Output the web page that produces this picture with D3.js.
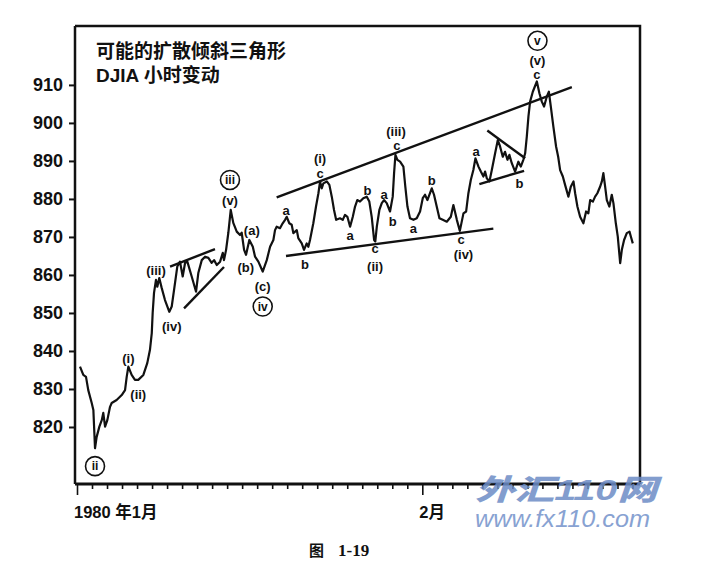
<!DOCTYPE html>
<html>
<head>
<meta charset="utf-8">
<script src="https://cdn.jsdelivr.net/npm/d3@7"></script>
<style>
  body { margin: 0; background: #fff; }
  svg text { font-family: "Liberation Sans", Arial, "Noto Sans CJK SC", sans-serif; font-weight: bold; fill: #111; }
</style>
</head>
<body>
<div id="chart"></div>
<script>
// chart size
var width = 712;
var height = 586;

// hourly DJIA path: trading day index (0 = start of Jan 1980) and index level
var days = [0.20, 0.42, 0.60, 0.75, 0.98, 1.09, 1.20, 1.31, 1.49, 1.65, 1.75, 1.87, 2.02, 2.20, 2.31, 2.64, 2.98, 3.20, 3.31, 3.42,
  3.64, 3.86, 4.08, 4.42, 4.68, 4.86, 4.98, 5.04, 5.13, 5.26, 5.35, 5.48, 5.64, 5.86, 6.15, 6.31, 6.53, 6.68, 6.86, 7.04,
  7.20, 7.35, 7.64, 7.93, 8.08, 8.31, 8.53, 8.75, 8.97, 9.13, 9.31, 9.53, 9.71, 9.79, 9.93, 10.08, 10.24, 10.41, 10.64, 10.86,
  10.97, 11.13, 11.26, 11.48, 11.71, 11.86, 12.08, 12.37, 12.64, 12.86, 13.08, 13.19, 13.30, 13.52, 13.70, 13.86, 13.97, 14.14, 14.30, 14.41,
  14.64, 14.74, 14.97, 15.12, 15.30, 15.41, 15.52, 15.74, 15.92, 16.08, 16.19, 16.30, 16.41, 16.64, 16.81, 16.97, 17.12, 17.26, 17.52, 17.70,
  17.85, 18.01, 18.19, 18.37, 18.52, 18.67, 18.85, 19.07, 19.30, 19.47, 19.63, 19.79, 19.87, 19.97, 20.14, 20.30, 20.45, 20.63, 20.85, 21.03,
  21.12, 21.21, 21.34, 21.52, 21.74, 21.87, 22.01, 22.18, 22.41, 22.63, 22.85, 23.03, 23.18, 23.34, 23.63, 23.78, 23.96, 24.14, 24.36, 24.63,
  24.90, 25.07, 25.30, 25.50, 25.74, 25.92, 26.07, 26.23, 26.40, 26.54, 26.74, 26.90, 27.07, 27.18, 27.30, 27.47, 27.63, 27.85, 28.03, 28.18,
  28.36, 28.51, 28.67, 28.80, 28.96, 29.18, 29.40, 29.56, 29.73, 29.85, 29.96, 30.07, 30.18, 30.36, 30.63, 30.80, 30.96, 31.11, 31.29, 31.43,
  31.56, 31.73, 31.91, 32.05, 32.18, 32.36, 32.51, 32.73, 32.89, 33.07, 33.18, 33.33, 33.51, 33.73, 33.91, 34.06, 34.18, 34.36, 34.51, 34.66,
  34.84, 34.96, 35.06, 35.18, 35.29, 35.46, 35.62, 35.73, 35.89, 36.02, 36.18, 36.29, 36.44, 36.62, 36.80, 36.89, 37.02];

var prices = [835.9, 833.7, 833.2, 829.7, 826.3, 824.5, 814.4, 817.4, 820.1, 821.8, 823.7, 820.1, 821.8, 825.3, 826.3, 827.1, 828.4, 829.7, 833.2, 835.9,
  833.7, 832.4, 832.4, 833.7, 836.8, 840.3, 844.7, 850.0, 855.3, 858.7, 856.9, 859.2, 856.6, 853.4, 850.3, 851.7, 857.9, 862.2, 863.5, 859.6,
  863.2, 863.5, 859.6, 855.6, 860.5, 863.9, 864.8, 864.5, 863.2, 863.9, 862.6, 863.5, 865.8, 863.9, 866.6, 871.1, 877.1, 873.7, 871.4, 870.5,
  871.1, 866.6, 865.3, 869.2, 867.4, 864.8, 863.5, 860.9, 863.9, 867.4, 869.2, 871.8, 872.7, 872.3, 873.6, 874.5, 875.3, 873.6, 873.2, 871.0,
  871.8, 869.7, 868.3, 866.6, 868.3, 867.4, 869.2, 873.6, 878.0, 881.5, 884.6, 882.8, 884.1, 884.6, 883.7, 880.6, 877.1, 874.5, 874.9, 874.5,
  875.8, 875.3, 872.7, 875.3, 878.0, 879.7, 879.3, 880.2, 880.6, 879.3, 875.3, 869.2, 868.8, 872.7, 877.1, 878.9, 879.7, 878.9, 876.7, 880.6,
  886.8, 891.6, 890.3, 889.8, 888.5, 883.2, 878.0, 874.9, 874.5, 874.9, 876.7, 880.2, 881.1, 879.7, 882.8, 881.1, 878.0, 874.9, 874.5, 874.0,
  875.3, 878.4, 874.5, 871.6, 876.2, 876.7, 881.5, 885.0, 887.6, 890.7, 888.5, 887.2, 885.9, 887.2, 885.4, 884.6, 887.6, 892.0, 895.5, 893.8,
  891.1, 892.4, 890.3, 891.6, 889.4, 887.2, 889.8, 888.5, 890.3, 892.0, 896.4, 901.7, 905.6, 908.2, 910.9, 907.8, 905.6, 904.3, 906.9, 908.2,
  904.3, 899.0, 893.8, 891.1, 887.6, 885.9, 883.7, 880.6, 883.2, 884.6, 881.5, 878.0, 875.3, 873.6, 876.7, 876.2, 879.7, 879.3, 880.6, 881.5,
  883.2, 884.6, 886.8, 883.2, 879.7, 878.0, 881.1, 878.9, 873.6, 870.1, 863.1, 866.6, 869.2, 871.0, 871.4, 870.1, 868.3];

// y axis ticks
var priceTicks = [820, 830, 840, 850, 860, 870, 880, 890, 900, 910];

// x axis: one tick per trading day, labelled at month starts
var dayTicks = d3.range(0, 38);
var monthDays = [0, 23];
var monthLabels = ["1980 年1月", "2月"];

// trendlines: [day1, price1, day2, price2]
var trendLines = [
  [6.20, 862.2, 9.19, 866.8],
  [7.13, 851.2, 9.79, 862.1],
  [13.30, 880.4, 32.96, 909.4],
  [13.92, 865.0, 27.73, 872.2],
  [27.33, 898.0, 29.85, 890.7],
  [26.80, 883.9, 29.78, 887.4]
];

// wave labels
var labelDays = [1.20, 3.42, 4.08, 5.26, 6.31, 10.19, 10.19, 11.64, 11.24, 12.37, 12.37,
  13.92, 15.19, 16.19, 16.19, 18.19, 19.34, 19.85, 19.85, 20.45, 21.03, 21.25, 21.30, 22.40, 23.63,
  25.58, 25.74, 26.58, 29.47, 30.67, 30.67, 30.63];
var labelPrices = [809.7, 838.1, 828.7, 861.3, 846.4, 879.7, 885.0, 871.8, 862.0, 857.1, 851.7,
  877.1, 862.8, 890.8, 886.7, 870.5, 882.4, 867.0, 862.4, 881.1, 874.0, 897.7, 894.0, 872.3, 885.0,
  869.4, 865.5, 892.6, 884.1, 921.6, 916.6, 912.7];
var labelTexts = ["ii", "(i)", "(ii)", "(iii)", "(iv)", "(v)", "iii", "(a)", "(b)", "(c)", "iv",
  "a", "b", "(i)", "c", "a", "b", "c", "(ii)", "a", "b", "(iii)", "c", "a", "b",
  "c", "(iv)", "a", "b", "v", "(v)", "c"];
var labelCircled = [1, 0, 0, 0, 0, 0, 1, 0, 0, 0, 1,
  0, 0, 0, 0, 0, 0, 0, 0, 0, 0, 0, 0, 0, 0,
  0, 0, 0, 0, 1, 0, 0];

var plotLeft = 75, plotRight = 640, plotTop = 26, plotBottom = 484;

var x = d3.scaleLinear().domain([0, 37.5]).range([77, 640]);
var y = d3.scaleLinear().domain([805, 925.5]).range([plotBottom, plotTop]);

var svg = d3.select("#chart")
  .append("svg")
  .attr("width", width)
  .attr("height", height);

// frame (top and right)
svg.append("path")
  .attr("d", "M" + plotLeft + "," + plotTop + "H" + plotRight + "V" + plotBottom)
  .attr("fill", "none")
  .attr("stroke", "#111")
  .attr("stroke-width", 2.5);

// y axis
var yAxis = svg.append("g")
  .attr("transform", "translate(" + plotLeft + ",0)")
  .call(d3.axisLeft(y).tickValues(priceTicks).tickSize(6).tickPadding(6).tickFormat(d3.format("d")));
yAxis.select(".domain").attr("stroke", "#111").attr("stroke-width", 2.5)
  .attr("d", "M0," + plotTop + "V" + plotBottom);
yAxis.selectAll(".tick line").attr("stroke", "#111").attr("stroke-width", 2);
yAxis.selectAll(".tick text")
  .style("font-size", "18px")
  .style("font-family", "'Liberation Sans', Arial, sans-serif")
  .style("font-weight", "bold")
  .attr("fill", "#111");

// x axis
var xAxis = svg.append("g")
  .attr("transform", "translate(0," + plotBottom + ")")
  .call(d3.axisBottom(x).tickValues(dayTicks).tickSize(5).tickFormat(""));
xAxis.select(".domain").attr("stroke", "#111").attr("stroke-width", 3)
  .attr("d", "M" + plotLeft + ",0H" + plotRight);
xAxis.selectAll(".tick line")
  .attr("stroke", "#111")
  .attr("stroke-width", 1.6)
  .attr("y2", function(d) { return monthDays.indexOf(d) >= 0 ? 11 : 5; });

svg.selectAll(".month-label")
  .data(monthDays)
  .enter()
  .append("text")
  .attr("class", "month-label")
  .attr("x", function(d) { return x(d) - 3; })
  .attr("y", plotBottom + 34)
  .style("font-size", "16.5px")
  .text(function(d, i) { return monthLabels[i]; });

// title
svg.append("text").attr("x", 96).attr("y", 58).style("font-size", "19px").text("可能的扩散倾斜三角形");
svg.append("text").attr("x", 96).attr("y", 82).style("font-size", "19px").text("DJIA 小时变动");

// price line
var line = d3.line()
  .x(function(d) { return x(d); })
  .y(function(d, i) { return y(prices[i]); });

svg.append("path")
  .datum(days)
  .attr("d", line)
  .attr("fill", "none")
  .attr("stroke", "#111")
  .attr("stroke-width", 2.2)
  .attr("stroke-linejoin", "round");

// trendlines
svg.selectAll(".trend")
  .data(trendLines)
  .enter()
  .append("line")
  .attr("class", "trend")
  .attr("x1", function(d) { return x(d[0]); })
  .attr("y1", function(d) { return y(d[1]); })
  .attr("x2", function(d) { return x(d[2]); })
  .attr("y2", function(d) { return y(d[3]); })
  .attr("stroke", "#111")
  .attr("stroke-width", 2.4);

// wave labels
var labels = svg.selectAll(".wave")
  .data(labelTexts)
  .enter()
  .append("g")
  .attr("class", "wave")
  .attr("transform", function(d, i) { return "translate(" + x(labelDays[i]) + "," + y(labelPrices[i]) + ")"; });

labels.filter(function(d, i) { return labelCircled[i]; })
  .append("circle")
  .attr("r", 9.5)
  .attr("fill", "#fff")
  .attr("stroke", "#111")
  .attr("stroke-width", 1.6);

labels.append("text")
  .attr("text-anchor", "middle")
  .attr("dy", "0.36em")
  .style("font-size", function(d, i) { return labelCircled[i] ? "12px" : "13px"; })
  .text(function(d) { return d; });

// caption
svg.append("text")
  .attr("x", 309)
  .attr("y", 556)
  .style("font-family", "'Noto Sans CJK SC', serif")
  .style("font-size", "15px")
  .text("图");
svg.append("text")
  .attr("x", 338)
  .attr("y", 556)
  .style("font-family", "'Liberation Serif', serif")
  .style("font-size", "17px")
  .text("1-19");

// watermark
svg.append("text")
  .attr("x", 475).attr("y", 500)
  .attr("textLength", 182).attr("lengthAdjust", "spacingAndGlyphs")
  .style("font-size", "29px").style("font-style", "italic").style("font-weight", "900")
  .style("fill", "#6d8cc6").style("opacity", 0.85)
  .text("外汇110网");
svg.append("text")
  .attr("x", 475).attr("y", 527)
  .attr("textLength", 175).attr("lengthAdjust", "spacingAndGlyphs")
  .style("font-size", "23px").style("font-style", "italic").style("font-weight", "normal")
  .style("fill", "#88a2d2")
  .text("www.fx110.com");
</script>
</body>
</html>
